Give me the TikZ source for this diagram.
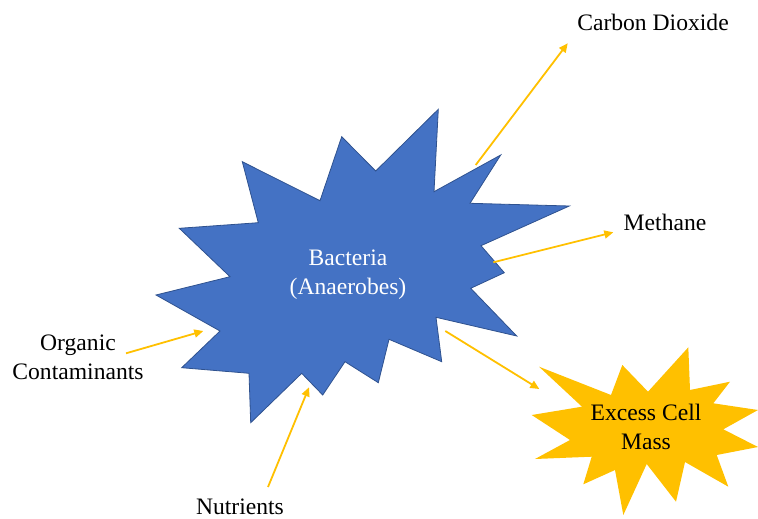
\documentclass[tikz,border=0pt]{standalone}
\usepackage{fontspec}
\setmainfont{Liberation Serif}
\usetikzlibrary{arrows.meta}
\definecolor{bactblue}{HTML}{4472C4}
\definecolor{bactedge}{HTML}{2F528F}
\definecolor{gold}{HTML}{FFC000}
\tikzset{
  flow/.style={-{Triangle[length=4.5pt,width=4pt]}, line width=0.9pt, gold},
  lbl/.style={align=center, inner sep=0pt, font=\fontsize{11.8}{14.5}\selectfont}
}
\begin{document}
\begin{tikzpicture}[x=0.5pt,y=-0.5pt]
			\useasboundingbox (0,0) rectangle (758,518);
			% the bacteria
			\filldraw[fill=bactblue, draw=bactedge, line width=0.4pt] (242.3,161.7) -- (320,200.7) -- (341.7,136.7) -- (375.7,171) -- (438.3,109.3) -- (434,191.7) -- (500.7,155) -- (470,203.3) -- (569.3,206) -- (481,245.7) -- (504.3,272.7) -- (470.7,288.3) -- (516.7,336) -- (436,317.3) -- (441.7,361.7) -- (389,339.3) -- (378.3,382.7) -- (345,361.7) -- (322.7,395) -- (301.7,373.3) -- (250.7,422.7) -- (249,373.3) -- (181.7,367.7) -- (220,331) -- (156,295) -- (230,276.7) -- (179.3,228.3) -- (258.3,222.7) -- cycle;
			% the cell mass
			\fill[gold] (539,366.7) -- (611,395) -- (622.3,365) -- (648,391.7) -- (688.3,347.3) -- (690,390) -- (730,381.7) -- (713.3,403.3) -- (758,410) -- (723.3,429.3) -- (758,447) -- (716.7,455) -- (728.3,486.7) -- (685,462) -- (676,501.7) -- (646.7,464) -- (623.3,515) -- (615,470) -- (583.3,484.3) -- (591.7,456.7) -- (535,459) -- (570,440) -- (531.7,415) -- (582,406.7) -- cycle;
			
			\node[lbl, text=white] (bact) at (348,275) {Bacteria\\(Anaerobes)};
			\node[lbl] (mass) at (646,427) {Excess Cell\\Mass};
			\node[lbl] (co2) at (653,22) {Carbon Dioxide};
			\node[lbl] (ch4) at (665,222) {Methane};
			\node[lbl] (org) at (78,357) {Organic\\Contaminants};
			\node[lbl] (nutr) at (240,507) {Nutrients};
			
			\coordinate (co2a) at (475.7,165);   \coordinate (co2b) at (567.7,43.3);
			\coordinate (ch4a) at (493.3,262.3); \coordinate (ch4b) at (613.3,232.3);
			\coordinate (orga) at (126,353.3);   \coordinate (orgb) at (203.3,331);
			\coordinate (nutra) at (268,487);    \coordinate (nutrb) at (309,387.3);
			\coordinate (massa) at (445.3,331);  \coordinate (massb) at (539.3,389);
			
			\draw[flow] (co2a) -- (co2b);
			\draw[flow] (ch4a) -- (ch4b);
			\draw[flow] (orga) -- (orgb);
			\draw[flow] (nutra) -- (nutrb);
			\draw[flow] (massa) -- (massb);
		\end{tikzpicture}
\end{document}
